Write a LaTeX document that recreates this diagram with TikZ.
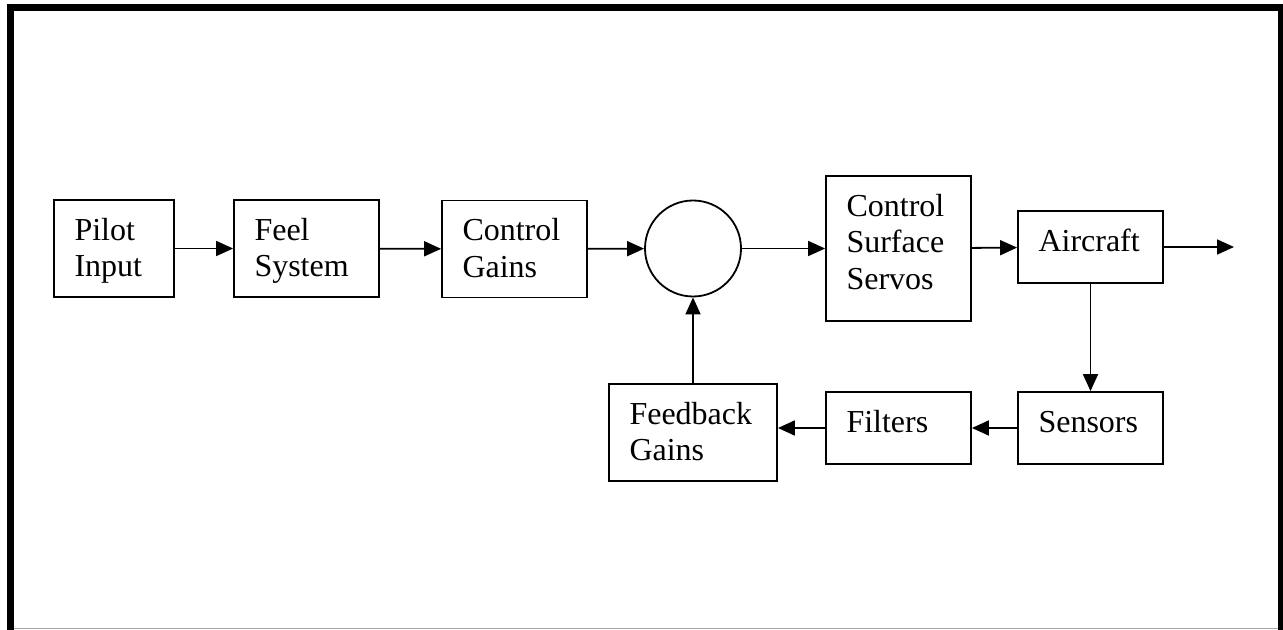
\documentclass[tikz,border=0pt]{standalone}
\usepackage{fontspec}
\setmainfont{Liberation Serif}
\usetikzlibrary{arrows.meta}

\begin{document}
\begin{tikzpicture}[x=0.5pt, y=-0.5pt, >={Triangle[length=8.5pt,width=7.5pt]}]
\useasboundingbox (0,0) rectangle (1283,630);
\draw[line width=3.5pt] (10.5,640) -- (10.5,7.5) -- (1281.5,7.5) -- (1281.5,640);
\draw[gray!70, line width=0.6pt] (14,628.5) -- (1278,628.5);

  \begin{scope}[every node/.style={rectangle,draw,line width=0.9pt,inner sep=0pt,minimum width=72.5pt,minimum height=48.5pt}]
\node[minimum width=60pt](1) at (114,248.5) {};
\node(2) at (306.5,248.5) {};
\node(3) at (514.5,249) {};
\node[circle,minimum size=48pt](s) at (693,248.5) {};
\node[minimum height=72.5pt](4) at (898.5,248.5) {};
\node[minimum height=36pt](5) at (1090.5,247) {};
\node[minimum height=36pt](6) at (1090.5,428) {};
\node[minimum height=36pt](7) at (898.5,428) {};
\node[minimum width=84pt](8) at (693,432.5) {};
\end{scope}

  \begin{scope}[every node/.style={anchor=base west,align=left,inner sep=0pt,font=\fontsize{16}{18.25}\selectfont}]
\node(t1) at ([shift={(21,77.5)}]1.north west) {Pilot\\Input};
\node(t2) at ([shift={(21,77.5)}]2.north west) {Feel\\System};
\node(t3) at ([shift={(21,77.5)}]3.north west) {Control\\Gains};
\node(t4) at ([shift={(21,114)}]4.north west) {Control\\Surface\\Servos};
\node(t5) at ([shift={(21,41)}]5.north west) {Aircraft};
\node(t6) at ([shift={(21,41)}]6.north west) {Sensors};
\node(t7) at ([shift={(21,41)}]7.north west) {Filters};
\node(t8) at ([shift={(21,77.5)}]8.north west) {Feedback\\Gains};
\end{scope}

\coordinate (o) at (1234,247);

\draw[->, line width=0.9pt] (1) -- (2);
\draw[->, line width=0.9pt] (2) -- (3);
\draw[->, line width=0.9pt] (3) -- (s);
\draw[->, line width=0.9pt] (s) -- (4);
\draw[->, line width=0.9pt] (4) -- (5);
\draw[->, line width=0.9pt] (5) -- (o);
\draw[->, line width=0.9pt] (5) -- (6);
\draw[->, line width=0.9pt] (6) -- (7);
\draw[->, line width=0.9pt] (7.west) -- (7.west -| 8.east);
\draw[->, line width=0.9pt] (8) -- (s);
\end{tikzpicture}
\end{document}
